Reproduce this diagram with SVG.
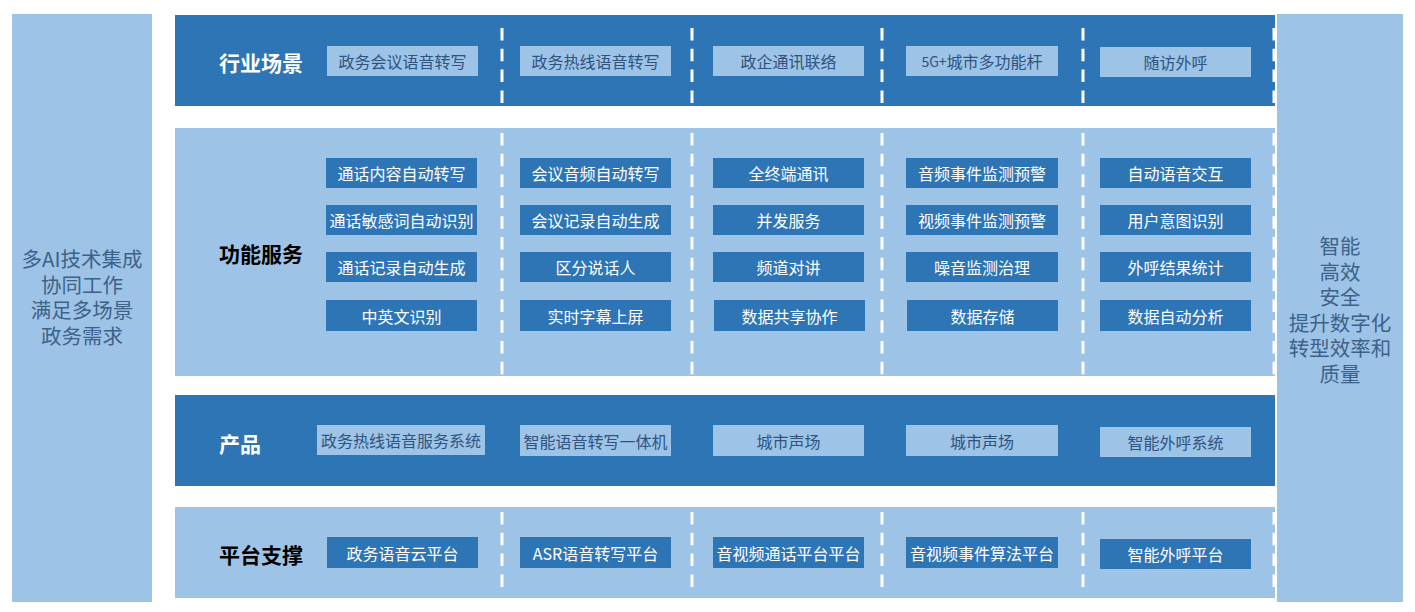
<svg xmlns="http://www.w3.org/2000/svg" width="1415" height="612" viewBox="0 0 1415 612">
<style>
.dark{fill:#2e75b6}
.light{fill:#9dc3e6}
.tw{fill:#ffffff;font-family:"Noto Sans CJK SC","Noto Sans",sans-serif;font-size:16px;text-anchor:middle;dominant-baseline:central}
.tb{fill:#2f5481;font-family:"Noto Sans CJK SC","Noto Sans",sans-serif;font-size:16px;text-anchor:middle;dominant-baseline:central}
.lab{font-family:"Noto Sans CJK SC",sans-serif;font-size:21px;font-weight:bold;dominant-baseline:central}
.side{fill:#3d6289;font-family:"Noto Sans CJK SC","Noto Sans",sans-serif;font-size:20.5px;text-anchor:middle;dominant-baseline:central}
.dash{stroke:#ffffff;stroke-width:3;stroke-dasharray:12.5 8.3;fill:none}
</style>
<rect width="1415" height="612" fill="#ffffff"/>
<g id="left-panel">
<rect class="light" x="12" y="14" width="140" height="588"/>
<text class="side" x="82" y="258"><tspan x="82" y="258">多AI技术集成</tspan><tspan x="82" y="284">协同工作</tspan><tspan x="82" y="309">满足多场景</tspan><tspan x="82" y="335">政务需求</tspan></text>
</g>
<g id="right-panel">
<rect class="light" x="1277" y="14" width="126" height="588"/>
<text class="side" x="1340" y="245"><tspan x="1340" y="245">智能</tspan><tspan x="1340" y="271">高效</tspan><tspan x="1340" y="296">安全</tspan><tspan x="1340" y="322">提升数字化</tspan><tspan x="1340" y="347">转型效率和</tspan><tspan x="1340" y="373">质量</tspan></text>
</g>
<g id="band-scene">
<rect class="dark" x="175" y="15" width="1100" height="91"/>
<text class="lab" x="219" y="62" fill="#ffffff">行业场景</text>
</g>
<g id="band-func">
<rect class="light" x="175" y="128" width="1100" height="248"/>
<text class="lab" x="219" y="253" fill="#000000">功能服务</text>
</g>
<g id="band-product">
<rect class="dark" x="175" y="395" width="1100" height="91"/>
<text class="lab" x="219" y="443" fill="#ffffff">产品</text>
</g>
<g id="band-platform">
<rect class="light" x="175" y="507" width="1100" height="91"/>
<text class="lab" x="219" y="554" fill="#000000">平台支撑</text>
</g>
<g id="connectors">
<path class="dash" d="M502 28V106M692 28V106M882 28V106M1083 28V106M1274 28V106"/>
<path class="dash" d="M502 133V376M692 133V376M882 133V376M1083 133V376M1274 133V376"/>
<path class="dash" d="M502 512V590M692 512V590M882 512V590M1083 512V590M1274 512V590"/>
</g>
<g id="scene-1"><rect class="light" x="327" y="46" width="151" height="30"/><text class="tb" x="402.5" y="61">政务会议语音转写</text></g>
<g id="scene-2"><rect class="light" x="520" y="46" width="151" height="30"/><text class="tb" x="595.5" y="61">政务热线语音转写</text></g>
<g id="scene-3"><rect class="light" x="713" y="46" width="151" height="30"/><text class="tb" x="788.5" y="61">政企通讯联络</text></g>
<g id="scene-4"><rect class="light" x="906" y="46" width="152" height="30"/><text class="tb" x="982" y="61"><tspan font-size="14">5G+</tspan>城市多功能杆</text></g>
<g id="scene-5"><rect class="light" x="1100" y="47" width="151" height="30"/><text class="tb" x="1175.5" y="62">随访外呼</text></g>

<g id="func-1-1"><rect class="dark" x="326" y="158" width="151" height="30"/><text class="tw" x="401.5" y="173">通话内容自动转写</text></g>
<g id="func-1-2"><rect class="dark" x="326" y="205" width="151" height="30"/><text class="tw" x="401.5" y="220">通话敏感词自动识别</text></g>
<g id="func-1-3"><rect class="dark" x="326" y="252" width="151" height="30"/><text class="tw" x="401.5" y="267">通话记录自动生成</text></g>
<g id="func-1-4"><rect class="dark" x="326" y="300" width="151" height="31"/><text class="tw" x="401.5" y="315.5">中英文识别</text></g>

<g id="func-2-1"><rect class="dark" x="520" y="158" width="151" height="30"/><text class="tw" x="595.5" y="173">会议音频自动转写</text></g>
<g id="func-2-2"><rect class="dark" x="520" y="205" width="151" height="30"/><text class="tw" x="595.5" y="220">会议记录自动生成</text></g>
<g id="func-2-3"><rect class="dark" x="520" y="252" width="151" height="30"/><text class="tw" x="595.5" y="267">区分说话人</text></g>
<g id="func-2-4"><rect class="dark" x="520" y="300" width="151" height="31"/><text class="tw" x="595.5" y="315.5">实时字幕上屏</text></g>

<g id="func-3-1"><rect class="dark" x="713" y="158" width="151" height="30"/><text class="tw" x="788.5" y="173">全终端通讯</text></g>
<g id="func-3-2"><rect class="dark" x="713" y="205" width="151" height="30"/><text class="tw" x="788.5" y="220">并发服务</text></g>
<g id="func-3-3"><rect class="dark" x="713" y="252" width="151" height="30"/><text class="tw" x="788.5" y="267">频道对讲</text></g>
<g id="func-3-4"><rect class="dark" x="714" y="300" width="151" height="31"/><text class="tw" x="789.5" y="315.5">数据共享协作</text></g>

<g id="func-4-1"><rect class="dark" x="906" y="158" width="152" height="30"/><text class="tw" x="982" y="173">音频事件监测预警</text></g>
<g id="func-4-2"><rect class="dark" x="906" y="205" width="152" height="30"/><text class="tw" x="982" y="220">视频事件监测预警</text></g>
<g id="func-4-3"><rect class="dark" x="906" y="252" width="152" height="30"/><text class="tw" x="982" y="267">噪音监测治理</text></g>
<g id="func-4-4"><rect class="dark" x="907" y="300" width="151" height="31"/><text class="tw" x="982.5" y="315.5">数据存储</text></g>

<g id="func-5-1"><rect class="dark" x="1100" y="158" width="151" height="30"/><text class="tw" x="1175.5" y="173">自动语音交互</text></g>
<g id="func-5-2"><rect class="dark" x="1100" y="205" width="151" height="30"/><text class="tw" x="1175.5" y="220">用户意图识别</text></g>
<g id="func-5-3"><rect class="dark" x="1100" y="252" width="151" height="30"/><text class="tw" x="1175.5" y="267">外呼结果统计</text></g>
<g id="func-5-4"><rect class="dark" x="1100" y="300" width="151" height="31"/><text class="tw" x="1175.5" y="315.5">数据自动分析</text></g>

<g id="product-1"><rect class="light" x="317" y="425" width="168" height="30"/><text class="tb" x="401" y="440">政务热线语音服务系统</text></g>
<g id="product-2"><rect class="light" x="520" y="425" width="151" height="31"/><text class="tb" x="595.5" y="440.5">智能语音转写一体机</text></g>
<g id="product-3"><rect class="light" x="713" y="425" width="151" height="31"/><text class="tb" x="788.5" y="440.5">城市声场</text></g>
<g id="product-4"><rect class="light" x="906" y="425" width="152" height="31"/><text class="tb" x="982" y="440.5">城市声场</text></g>
<g id="product-5"><rect class="light" x="1100" y="427" width="151" height="30"/><text class="tb" x="1175.5" y="442">智能外呼系统</text></g>

<g id="platform-1"><rect class="dark" x="327" y="537" width="151" height="31"/><text class="tw" x="402.5" y="552.5">政务语音云平台</text></g>
<g id="platform-2"><rect class="dark" x="520" y="537" width="151" height="31"/><text class="tw" x="595.5" y="552.5">ASR语音转写平台</text></g>
<g id="platform-3"><rect class="dark" x="713" y="537" width="151" height="31"/><text class="tw" x="788.5" y="552.5">音视频通话平台平台</text></g>
<g id="platform-4"><rect class="dark" x="906" y="537" width="152" height="31"/><text class="tw" x="982" y="552.5">音视频事件算法平台</text></g>
<g id="platform-5"><rect class="dark" x="1100" y="539" width="151" height="30"/><text class="tw" x="1175.5" y="554">智能外呼平台</text></g>
</svg>
